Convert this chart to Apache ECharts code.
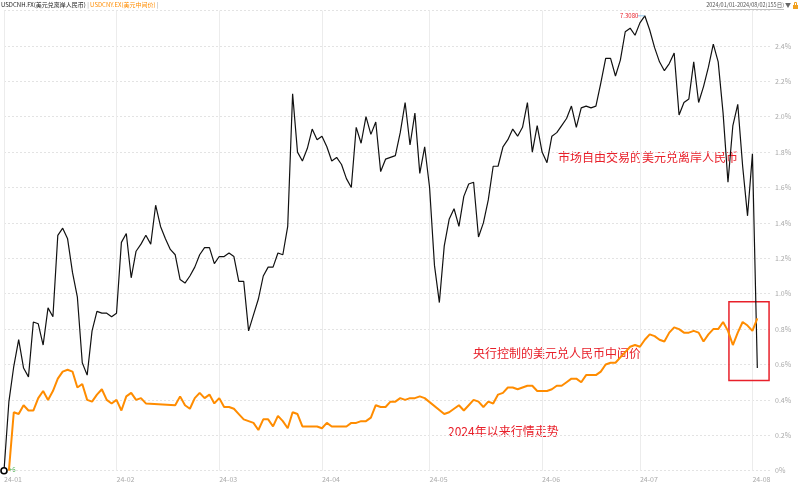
<!DOCTYPE html>
<html><head><meta charset="utf-8">
<script src="https://cdn.jsdelivr.net/npm/echarts@6/dist/echarts.min.js"></script>
<style>html,body{margin:0;padding:0;background:#fff}#c{width:800px;height:484px}</style>
</head><body><div id="c"></div>
<script>
// % change since start, USDCNH (offshore), one value per weekday 2024-01-01 .. 2024-08-02
const cnhPct = [
0,0.39,0.59,0.74,0.58,0.53,0.84,0.83,0.71,0.92,0.87,1.33,1.37,1.31,1.12,0.98,0.61,0.54,0.79,0.90,
0.89,0.89,0.87,0.89,1.29,1.34,1.09,1.24,1.28,1.33,1.28,1.50,1.38,1.31,1.25,1.22,1.08,1.06,1.10,1.15,
1.22,1.26,1.26,1.17,1.21,1.21,1.23,1.21,1.07,1.07,0.79,0.88,0.97,1.10,1.15,1.15,1.23,1.22,1.38,2.13,
1.80,1.75,1.82,1.93,1.87,1.89,1.83,1.75,1.77,1.73,1.65,1.60,1.94,1.85,2.00,1.90,1.97,1.69,1.76,1.77,
1.78,1.91,2.08,1.84,2.02,1.68,1.83,1.60,1.16,0.95,1.27,1.42,1.48,1.38,1.55,1.62,1.63,1.32,1.40,1.53,
1.72,1.72,1.83,1.87,1.93,1.89,1.94,2.08,1.80,1.95,1.80,1.74,1.89,1.91,1.95,1.99,2.06,1.94,2.05,2.06,
2.05,2.06,2.19,2.33,2.33,2.23,2.32,2.48,2.50,2.46,2.53,2.57,2.49,2.39,2.31,2.26,2.30,2.36,2.01,2.08,
2.10,2.31,2.08,2.17,2.28,2.41,2.31,2.02,1.63,1.95,2.07,1.72,1.44,1.79,0.58];
// % change since start, USDCNY central parity (null = no fixing that day)
const cnyPct = [
null,0,0.33,0.32,0.37,0.34,0.34,0.41,0.45,0.40,0.45,0.52,0.56,0.57,0.56,0.47,0.49,0.40,0.39,0.43,
0.46,0.40,0.38,0.40,0.34,0.42,0.44,0.40,0.41,0.38,null,null,null,null,null,0.37,0.42,0.37,0.35,0.41,
0.44,0.41,0.43,0.38,0.41,0.36,0.36,0.35,0.32,0.29,0.28,0.27,0.23,0.29,0.29,0.25,0.31,0.28,0.24,0.33,
0.32,0.25,0.25,0.25,0.25,0.24,0.27,0.25,null,null,0.25,0.27,0.27,0.28,0.28,0.30,0.37,0.36,0.36,0.39,
0.39,0.41,0.40,0.41,0.41,0.42,0.41,null,null,null,0.32,0.33,0.35,0.37,0.34,0.37,0.40,0.39,0.36,0.39,
0.38,0.43,0.44,0.47,0.47,0.46,0.47,0.48,0.48,0.45,0.45,0.45,0.46,0.48,0.48,0.50,0.52,0.52,0.50,0.54,
0.54,0.54,0.56,0.60,0.61,0.61,0.64,0.67,0.70,0.71,0.70,0.74,0.77,0.76,0.74,0.73,0.78,0.81,0.80,0.78,
0.78,0.79,0.78,0.73,0.77,0.80,0.80,0.84,0.79,0.71,0.78,0.84,0.82,0.79,0.86];
const peakLabel = '7.3080';
const yTicks = [0,0.2,0.4,0.6,0.8,1.0,1.2,1.4,1.6,1.8,2.0,2.2,2.4];
const seriesNames = ['USDCNH.FX(美元兑离岸人民币)', 'USDCNY.EX(美元中间价)'];
const notes = ['市场自由交易的美元兑离岸人民币', '央行控制的美元兑人民币中间价', '2024年以来行情走势'];
const rangeText = '2024/01/01-2024/08/02(155日)';

// weekday categories
const dates = [];
for (let d = new Date(Date.UTC(2024,0,1)); d <= new Date(Date.UTC(2024,7,2)); d.setUTCDate(d.getUTCDate()+1)) {
  const w = d.getUTCDay();
  if (w !== 0 && w !== 6) dates.push(d.toISOString().slice(0,10));
}
const monthIdx = [];
dates.forEach((s,i)=>{ if(i===0 || s.slice(5,7)!==dates[i-1].slice(5,7)) monthIdx.push(i); });
const peakIdx = cnhPct.indexOf(Math.max(...cnhPct));

const FONT = '"Noto Sans CJK SC", "Noto Sans", sans-serif';
const RED = '#e8202a';
const chart = echarts.init(document.getElementById('c'));
chart.setOption({
  animation: false,
  grid: {left: 4, right: 28, top: 10.5, bottom: 13.3},
  xAxis: {
    type: 'value', min: 0, max: 157,
    axisLine: {show: false},
    axisTick: {show: false, customValues: monthIdx},
    axisLabel: {customValues: monthIdx, formatter: v => '24-' + dates[Math.round(v)].slice(5,7),
      align: 'left', color: '#aaa', fontSize: 7, margin: 5, fontFamily: FONT},
    splitLine: {show: true, lineStyle: {color: '#ececec', width: 1}}
  },
  yAxis: {
    type: 'value', position: 'right', min: 0, max: 2.6, interval: 0.2,
    axisLine: {show: false}, axisTick: {show: false},
    axisLabel: {showMaxLabel: false, color: '#aaa', fontSize: 7, margin: 3, fontFamily: FONT,
      formatter: v => v === 0 ? '0%' : v.toFixed(1) + '%'},
    splitLine: {show: true, lineStyle: {color: '#e3e3e3', type: [2,2], width: 1}}
  },
  series: [
    {
      name: seriesNames[0], type: 'line', showSymbol: false,
      data: cnhPct.map((v,i)=>[i,v]),
      lineStyle: {color: '#111', width: 1.2}, itemStyle: {color: '#111'},
      markPoint: {
        silent: true,
        data: [
          {coord: [0, cnhPct[0]], symbol: 'circle', symbolSize: 6,
           itemStyle: {color: '#fff', borderColor: '#000', borderWidth: 1.6}, label: {show: false}},
          {coord: [peakIdx, cnhPct[peakIdx]], symbol: 'rect', symbolSize: [7, 1], symbolOffset: [-4, 0],
           itemStyle: {color: '#8cc4ec'},
           label: {show: true, position: 'left', distance: 0, offset: [1, 0], formatter: peakLabel, color: RED, fontSize: 6, fontFamily: FONT}}
        ]
      },
      markArea: {
        silent: true,
        itemStyle: {color: 'rgba(0,0,0,0)', borderColor: RED, borderWidth: 1.5},
        data: [[{coord: [148.2, 0.955]}, {coord: [156.4, 0.51]}]]
      }
    },
    {
      name: seriesNames[1], type: 'line', showSymbol: false, connectNulls: true,
      data: cnyPct.map((v,i)=>[i,v]),
      lineStyle: {color: '#ff8c00', width: 2}, itemStyle: {color: '#ff8c00'}
    }
  ],
  graphic: [
    {type: 'text', left: 1, top: 2, style: {
      text: '{a|' + seriesNames[0] + '}{s| | }{b|' + seriesNames[1] + '}{s| |}',
      rich: {a: {fill: '#222', fontSize: 6, fontFamily: FONT}, s: {fill: '#999', fontSize: 6, fontFamily: FONT},
             b: {fill: '#ff8c00', fontSize: 6, fontFamily: FONT}}}},
    {type: 'text', right: 16, top: 2, style: {text: rangeText, fill: '#555', fontSize: 5.5, fontFamily: FONT}},
    {type: 'line', shape: {x1: 711, y1: 9.5, x2: 784, y2: 9.5}, style: {stroke: '#999', lineWidth: 0.6}},
    {type: 'text', left: 785, top: 2, style: {text: '▼', fill: '#666', fontSize: 6, fontFamily: FONT}},
    {type: 'rect', shape: {x: 793, y: 5, width: 5, height: 4}, style: {fill: '#f0a020'}},
    {type: 'rect', shape: {x: 794.5, y: 2.5, width: 2, height: 3}, style: {fill: 'none', stroke: '#f0a020', lineWidth: 1}},
    {type: 'text', left: 9, top: 467, style: {text: '+6', fill: '#4caf50', fontSize: 6, fontFamily: FONT}},
    {type: 'text', left: 558, top: 151, style: {text: notes[0], fill: RED, fontSize: 12, fontFamily: FONT}},
    {type: 'text', left: 473, top: 347, style: {text: notes[1], fill: RED, fontSize: 12, fontFamily: FONT}},
    {type: 'text', left: 448, top: 425, style: {text: notes[2], fill: RED, fontSize: 12, fontFamily: FONT}}
  ]
});
</script>
</body></html>
